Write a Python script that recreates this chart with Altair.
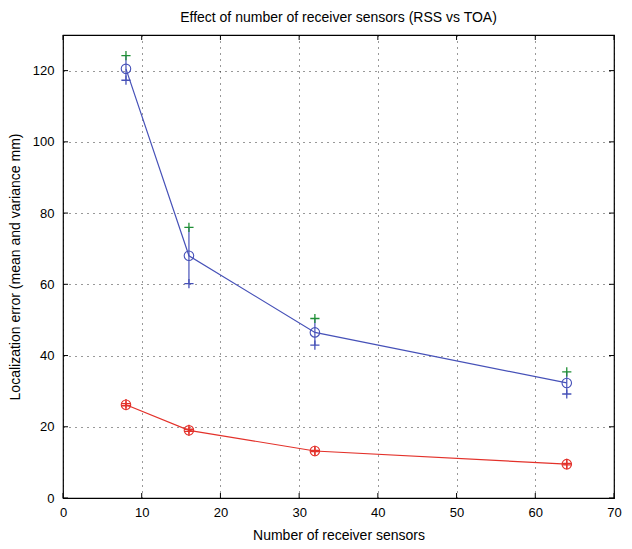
import altair as alt
import pandas as pd

sensors = [8, 16, 32, 64]
toa_mean = [120.5, 68.0, 46.5, 32.3]
toa_upper = [124.2, 76.0, 50.4, 35.4]
toa_lower = [117.3, 60.2, 42.9, 29.2]
rss_mean = [26.2, 19.0, 13.2, 9.5]
rss_upper = [26.5, 19.3, 13.4, 9.7]
rss_lower = [25.9, 18.7, 13.0, 9.3]
x_ticks = [0, 10, 20, 30, 40, 50, 60, 70]
y_ticks = [0, 20, 40, 60, 80, 100, 120]

BLUE = "#4651b8"
RED = "#e3312a"
GREEN = "#1f8f35"
PLUS = "M-1,0L1,0M0,-1L0,1"
FONT = "Liberation Sans"

W, H = 551, 463

toa = pd.DataFrame({"x": sensors, "mean": toa_mean, "up": toa_upper, "lo": toa_lower})
rss = pd.DataFrame({"x": sensors, "mean": rss_mean, "up": rss_upper, "lo": rss_lower})

xs = alt.Scale(domain=[0, 70], nice=False)
ys = alt.Scale(domain=[0, 130], nice=False)

xax = alt.Axis(values=x_ticks, grid=True, gridDash=[1, 5], gridColor="#000", gridOpacity=0.8,
               tickSize=0, domain=False, labelPadding=8, labelFontSize=13, labelFont=FONT,
               labelColor="#000", titleFont=FONT, titleFontSize=14, titleFontWeight="normal",
               titleColor="#000", titlePadding=9, labelFlush=False)
yax = alt.Axis(values=y_ticks, grid=True, gridDash=[1, 5], gridColor="#000", gridOpacity=0.8,
               tickSize=0, domain=False, labelPadding=9, labelFontSize=13, labelFont=FONT,
               labelColor="#000", titleFont=FONT, titleFontSize=14, titleFontWeight="normal",
               titleColor="#000", titlePadding=10)

base_toa = alt.Chart(toa)
base_rss = alt.Chart(rss)

X = alt.X("x:Q", scale=xs, axis=xax, title="Number of receiver sensors")
Y = alt.Y("mean:Q", scale=ys, axis=yax, title="Localization error (mean and variance mm)")

def series(base, color, upcolor):
    line = base.mark_line(color=color, strokeWidth=1.2).encode(x=X, y=Y)
    err = base.mark_rule(color=color, strokeWidth=1.2).encode(
        x=alt.X("x:Q", scale=xs), y=alt.Y("lo:Q", scale=ys), y2="up:Q")
    circ = base.mark_point(shape="circle", filled=False, color=color, size=90, strokeWidth=1.1, opacity=1).encode(
        x=alt.X("x:Q", scale=xs), y=alt.Y("mean:Q", scale=ys))
    up = base.mark_point(shape=PLUS, filled=False, color=upcolor, size=85, strokeWidth=1.3, opacity=1).encode(
        x=alt.X("x:Q", scale=xs), y=alt.Y("up:Q", scale=ys))
    lo = base.mark_point(shape=PLUS, filled=False, color=color, size=85, strokeWidth=1.3, opacity=1).encode(
        x=alt.X("x:Q", scale=xs), y=alt.Y("lo:Q", scale=ys))
    return [line, err, circ, up, lo]

xt = pd.DataFrame({"t": x_ticks})
yt = pd.DataFrame({"t": y_ticks})
tick_layers = [
    alt.Chart(xt).mark_rule(color="#000", strokeWidth=1).encode(
        x=alt.X("t:Q", scale=xs), y=alt.value(H), y2=alt.value(H - 5)),
    alt.Chart(xt).mark_rule(color="#000", strokeWidth=1).encode(
        x=alt.X("t:Q", scale=xs), y=alt.value(0), y2=alt.value(5)),
    alt.Chart(yt).mark_rule(color="#000", strokeWidth=1).encode(
        y=alt.Y("t:Q", scale=ys), x=alt.value(0), x2=alt.value(5)),
    alt.Chart(yt).mark_rule(color="#000", strokeWidth=1).encode(
        y=alt.Y("t:Q", scale=ys), x=alt.value(W), x2=alt.value(W - 5)),
]

chart = alt.layer(
    *tick_layers,
    *series(base_toa, BLUE, GREEN),
    *series(base_rss, RED, RED),
).properties(
    width=W, height=H,
    title=alt.TitleParams("Effect of number of receiver sensors (RSS vs TOA)", font=FONT,
                          fontSize=14, fontWeight="normal", color="#000", offset=10),
    autosize=alt.AutoSizeParams(type="none"),
    padding={"left": 55, "top": 27, "right": 10, "bottom": 43},
).configure_view(stroke="#000", strokeWidth=1.2)

chart.save("out.html", embed_options={"renderer": "svg", "actions": False})
